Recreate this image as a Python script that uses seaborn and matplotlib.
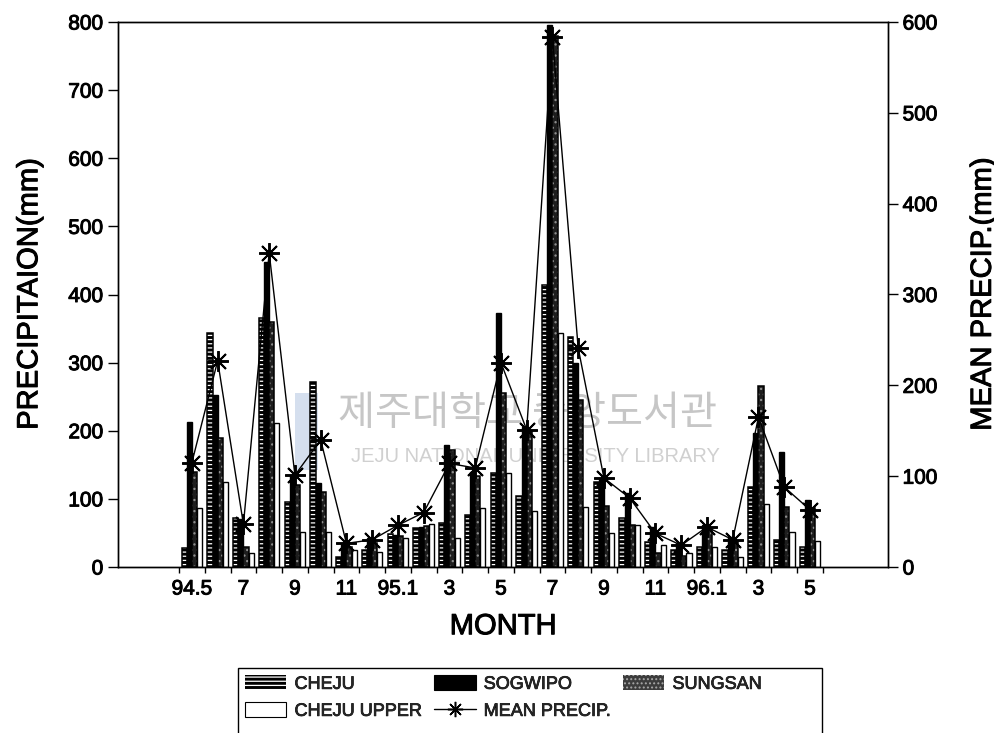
import numpy as np
import pandas as pd
import matplotlib
matplotlib.use("Agg")
import matplotlib.pyplot as plt
import matplotlib.patheffects as pe
import seaborn as sns
from matplotlib.patches import Patch, Rectangle
from matplotlib.lines import Line2D

# Monthly precipitation, May 1994 - May 1996
months = ["94.5", "94.6", "94.7", "94.8", "94.9", "94.10", "94.11", "94.12",
          "95.1", "95.2", "95.3", "95.4", "95.5", "95.6", "95.7", "95.8",
          "95.9", "95.10", "95.11", "95.12", "96.1", "96.2", "96.3", "96.4", "96.5"]
tick_labels = ["94.5", "7", "9", "11", "95.1", "3", "5", "7", "9", "11", "96.1", "3", "5"]

cheju = [28, 343, 72, 365, 95, 272, 15, 25, 48, 57, 65, 76, 138, 104, 414, 338,
         125, 72, 37, 25, 29, 25, 118, 40, 29]
sogwipo = [213, 252, 70, 448, 135, 123, 35, 42, 47, 58, 179, 140, 373, 205, 795, 300,
           130, 108, 59, 35, 62, 44, 197, 169, 98]
sungsan = [140, 190, 30, 360, 120, 110, 30, 35, 45, 60, 172, 133, 255, 200, 780, 245,
           90, 62, 20, 16, 56, 36, 266, 88, 87]
cheju_upper = [87, 125, 20, 211, 51, 51, 25, 22, 42, 63, 42, 87, 138, 82, 343, 88,
               50, 62, 32, 20, 29, 15, 93, 51, 38]
mean_precip = [115, 227, 47, 346, 101, 140, 26, 30, 46, 60, 114, 109, 225, 151, 583, 241,
               98, 76, 37, 24, 44, 30, 165, 88, 63]

stations = ["CHEJU", "SOGWIPO", "SUNGSAN", "CHEJU UPPER"]

sns.set_theme(style="ticks")
plt.rcParams["font.family"] = ["Liberation Sans", "DejaVu Sans"]
plt.rcParams["hatch.linewidth"] = 0.9

# slightly heavier strokes on all labels
ink = [pe.withStroke(linewidth=0.7, foreground="black")]

W, H = 995, 733
fig = plt.figure(figsize=(W / 100, H / 100), dpi=100)
ax = fig.add_axes([118 / W, 1 - 567 / H, (888 - 118) / W, (567 - 22) / H])

wide = pd.DataFrame({"month": months, "CHEJU": cheju, "SOGWIPO": sogwipo,
                     "SUNGSAN": sungsan, "CHEJU UPPER": cheju_upper})
long = wide.melt(id_vars="month", var_name="station", value_name="precip")

sns.barplot(data=long, x="month", y="precip", hue="station", order=months,
            hue_order=stations, width=0.8, errorbar=None, saturation=1,
            legend=False, ax=ax)

styles = {
    "CHEJU": dict(face="black", hatch="----", hcolor="white"),
    "SOGWIPO": dict(face="black", hatch=None, hcolor=None),
    "SUNGSAN": dict(face="#1e1e1e", hatch="...", hcolor="#8c8c8c"),
    "CHEJU UPPER": dict(face="white", hatch=None, hcolor=None),
}
for station, cont in zip(stations, ax.containers):
    st = styles[station]
    for bar in cont:
        bar.set_facecolor(st["face"])
        if st["hatch"]:
            bar.set_hatch(st["hatch"])
            bar.set_edgecolor(st["hcolor"])
            bar.set_linewidth(0)
            ax.add_patch(Rectangle(bar.get_xy(), bar.get_width(), bar.get_height(),
                                   fill=False, edgecolor="black", lw=1.1,
                                   zorder=bar.get_zorder() + 0.01))
        else:
            bar.set_edgecolor("black")
            bar.set_linewidth(1.0)

# library watermark behind the bars
ax.add_patch(Rectangle((295 / W, 1 - 470 / H), 23 / W, 77 / H, transform=fig.transFigure,
                       facecolor="#d5dfee", edgecolor="none", zorder=0.2))
ax.text(528 / W, 1 - 414 / H, "제주대학교 중앙도서관", transform=fig.transFigure,
        ha="center", va="center", fontsize=29, color="#c6c6c6",
        family=["Noto Sans CJK KR"], zorder=0.3)
ax.text(535 / W, 1 - 457 / H, "JEJU NATIONAL UNIVERSITY LIBRARY", transform=fig.transFigure,
        ha="center", va="center", fontsize=14.5, color="#d0d0d0", zorder=0.3)

ax2 = ax.twinx()
sns.lineplot(x=np.arange(len(months)), y=mean_precip, ax=ax2, color="black", lw=1.0,
             marker=(8, 2, 0), markersize=15, markeredgewidth=1.4,
             markeredgecolor="black", zorder=5)

ax.set_xlim(-2.87, 27.03)
ax.set_ylim(0, 800)
ax2.set_ylim(0, 600)
ax.set_yticks(range(0, 801, 100))
ax2.set_yticks(range(0, 601, 100))
ax.set_xticks(np.arange(0, len(months), 2))
ax.set_xticklabels(tick_labels)
ax.set_xticks(np.arange(-0.5, len(months), 1), minor=True)

ax.tick_params(axis="x", which="major", length=0, pad=9, labelsize=15, colors="black")
ax.tick_params(axis="x", which="minor", length=4, width=1, direction="out", color="black")
ax.tick_params(axis="y", length=7, width=1, labelsize=15, direction="out", colors="black")
ax2.tick_params(axis="y", length=7, width=1, labelsize=15, direction="out", colors="black")

for a in (ax, ax2):
    for sp in a.spines.values():
        sp.set_color("black")
        sp.set_linewidth(1.0)
    for lab in a.get_xticklabels() + a.get_yticklabels():
        lab.set_path_effects(ink)

ax.set_ylabel("PRECIPITAION(mm)", fontsize=21, color="black", path_effects=ink)
ax.yaxis.set_label_coords(-0.097, 0.5)
ax.set_xlabel("MONTH", fontsize=21, color="black", path_effects=ink)
ax.xaxis.set_label_coords(0.5, -0.083)
ax2.set_ylabel("MEAN PRECIP.(mm)", fontsize=21, color="black", path_effects=ink)
ax2.yaxis.set_label_coords(1.105, 0.5)
ax2.set_xlabel("")

# legend
h_cheju = Patch(facecolor="black", edgecolor="white", hatch="----", lw=0)
h_sog = Patch(facecolor="black", edgecolor="black", lw=0.8)
h_sung = Patch(facecolor="#3c3c3c", edgecolor="#a8a8a8", hatch="....", lw=0)
h_upper = Patch(facecolor="white", edgecolor="black", lw=0.8)
h_mean = Line2D([], [], color="black", lw=1.0, marker=(8, 2, 0), markersize=11,
                markeredgewidth=1.1)
handles = [h_cheju, h_upper, h_sog, h_mean, h_sung]
labels = ["CHEJU", "CHEJU UPPER", "SOGWIPO", "MEAN PRECIP.", "SUNGSAN"]
leg = fig.legend(handles, labels, ncol=3, loc="upper left",
                 bbox_to_anchor=(238 / W, 1 - 668 / H), bbox_transform=fig.transFigure,
                 frameon=False, fontsize=13, handlelength=2.3, handleheight=0.95,
                 handletextpad=0.45, columnspacing=0.7, labelspacing=0.5,
                 borderpad=0.38, borderaxespad=0)
for t in leg.get_texts():
    t.set_path_effects([pe.withStroke(linewidth=0.5, foreground="black")])
fig.patches.append(Rectangle((238 / W, -0.02), (822 - 238) / W, 0.02 + (733 - 668) / H,
                             transform=fig.transFigure, fill=False,
                             edgecolor="black", lw=1.0))

fig.savefig("out.png", dpi=100, facecolor="white")
